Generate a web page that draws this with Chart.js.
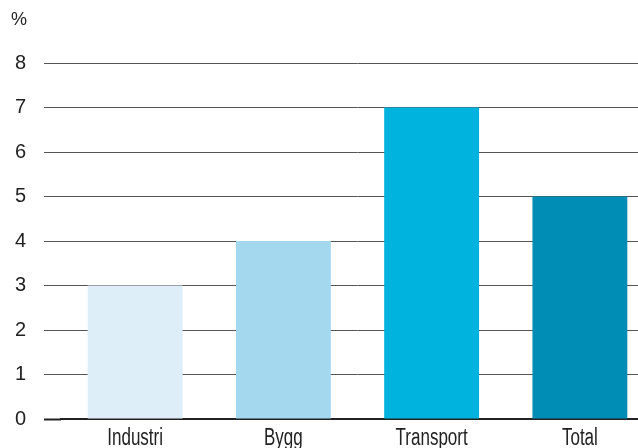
<!DOCTYPE html>
<html>
<head>
<meta charset="utf-8">
<script src="https://cdn.jsdelivr.net/npm/chart.js@4"></script>
<style>
  body { margin: 0; overflow: hidden; background: #fff; }
  #wrap { position: relative; width: 654px; height: 459px; }
</style>
</head>
<body>
<div id="wrap"><canvas id="myChart"></canvas></div>
<script>
const categories = ["Industri", "Bygg", "Transport", "Total"];
const values = [3, 4, 7, 5];
const barColors = ["#DDEEF8", "#A3D8EE", "#00B3DF", "#008DB5"];
const yTicks = [0, 1, 2, 3, 4, 5, 6, 7, 8];
const unitLabel = "%";

// unit text above the value axis, and narrowed category labels under the bars
const textPlugin = {
    id: 'extraText',
    afterDraw(chart) {
        const ctx = chart.ctx;
        ctx.save();
        ctx.font = '18px "Liberation Sans", Arial, sans-serif';
        ctx.fillStyle = '#222';
        ctx.textAlign = 'left';
        ctx.textBaseline = 'alphabetic';
        ctx.fillText(unitLabel, 11, 25);

        const xScale = chart.scales.x;
        ctx.font = '23px "Liberation Sans", Arial, sans-serif';
        ctx.textAlign = 'center';
        categories.forEach((label, i) => {
            const x = xScale.getPixelForTick(i);
            ctx.save();
            ctx.translate(x, xScale.top + 26);
            ctx.scale(0.74, 1);
            ctx.fillText(label, 0, 0);
            ctx.restore();
        });
        ctx.restore();
    }
};

var ctx = document.getElementById('myChart').getContext('2d');
var myChart = new Chart(ctx, {
    type: 'bar',
    data: {
        labels: categories,
        datasets: [{
            data: values,
            backgroundColor: barColors,
            borderWidth: 0,
            barPercentage: 0.64,
            categoryPercentage: 1
        }]
    },
    plugins: [textPlugin],
    options: {
        responsive: true,
        maintainAspectRatio: false,
        animation: false,
        layout: {
            padding: { top: 63, left: 0, right: 0, bottom: 0 }
        },
        plugins: {
            legend: { display: false },
            tooltip: { enabled: false },
            title: { display: false }
        },
        scales: {
            x: {
                afterFit: axis => { axis.height = 40; },
                grid: { display: false, drawTicks: false },
                border: { display: true, color: '#222', width: 2 },
                ticks: {
                    color: 'rgba(0,0,0,0)',
                    padding: 6,
                    font: { family: '"Liberation Sans", Arial, sans-serif', size: 23 }
                }
            },
            y: {
                min: 0,
                max: 8,
                afterBuildTicks: axis => { axis.ticks = yTicks.map(v => ({ value: v })); },
                afterFit: axis => { axis.width = 61; },
                grid: {
                    color: '#555',
                    lineWidth: 1,
                    drawTicks: true,
                    tickLength: 17,
                    tickColor: c => c.index === 0 ? '#222' : '#555',
                    tickWidth: c => c.index === 0 ? 2 : 1
                },
                border: { display: false },
                ticks: {
                    color: '#222',
                    padding: 18,
                    font: { family: '"Liberation Sans", Arial, sans-serif', size: 20 }
                }
            }
        }
    }
});
</script>
</body>
</html>
